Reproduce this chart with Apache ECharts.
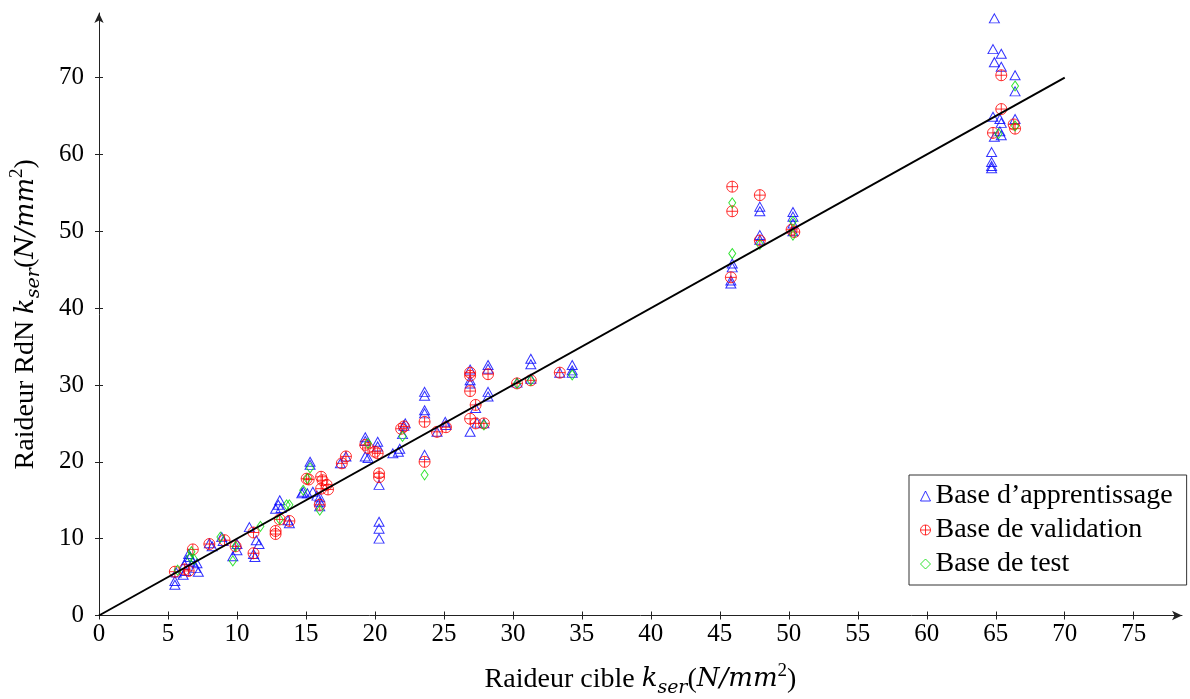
<!DOCTYPE html>
<html>
<head>
<meta charset="utf-8">
<script src="https://cdn.jsdelivr.net/npm/echarts@6/dist/echarts.min.js"></script>
<style>
html,body{margin:0;padding:0;background:#fff;}
#chart{width:1190px;height:699px;}
</style>
</head>
<body>
<div id="chart"></div>
<script>
const xTicks = [0,5,10,15,20,25,30,35,40,45,50,55,60,65,70,75];
const yTicks = [0,10,20,30,40,50,60,70];
const seriesNames = ['Base d\u2019apprentissage', 'Base de validation', 'Base de test'];

const apprentissage = [
[5.5,4.0],[5.5,4.5],[5.6,5.6],[6.1,5.3],[6.2,6.6],[6.35,7.2],[6.6,7.6],[6.5,8.0],[6.8,7.0],[7.0,6.2],[7.2,5.7],[7.1,6.8],[6.3,5.8],
[8.0,9.4],[8.2,9.0],[8.9,10.2],[9.0,9.7],[9.7,7.7],[10.0,9.3],[10.0,8.5],
[10.9,11.5],[11.4,9.8],[11.2,8.0],[11.3,7.6],[11.6,9.3],
[13.1,15.0],[13.0,14.4],[12.8,13.9],[13.2,14.0],[13.7,12.4],[13.8,12.0],[14.7,15.9],
[15.3,20.0],[15.3,19.6],[14.8,16.1],[15.1,15.9],[15.5,16.1],[15.8,15.6],[16.0,15.4],[16.0,14.8],[16.0,14.2],
[17.5,19.8],[17.9,20.7],
[19.3,23.2],[19.3,22.7],[19.3,20.7],[19.5,20.5],[20.2,22.6],[20.2,22.0],[20.3,17.0],[20.3,12.2],[20.3,11.3],[20.3,10.0],
[21.3,21.1],[21.7,21.3],[21.8,21.7],[22.0,23.6],[22.2,25.0],[22.1,24.7],
[23.6,29.1],[23.6,28.6],[23.6,26.7],[23.6,26.3],[23.6,20.9],
[24.5,23.9],[25.1,25.2],[25.15,24.8],
[26.9,32.0],[26.9,30.6],[26.9,30.2],[26.9,23.9],[27.3,27.0],[27.4,25.1],
[28.2,32.6],[28.2,32.1],[28.2,29.1],[28.2,28.5],[27.9,25.0],
[30.3,30.3],[31.3,33.4],[31.3,32.7],[31.3,30.8],[33.4,31.6],[34.3,32.6],[34.3,31.9],[34.3,31.6],
[45.9,45.8],[45.9,45.3],[45.8,43.2],[45.8,43.6],
[47.9,53.2],[47.9,52.6],[47.9,49.5],[47.9,48.9],
[50.3,52.5],[50.3,51.9],[50.3,51.0],[50.3,50.0],
[64.9,77.7],[64.8,73.7],[65.4,73.1],[64.9,72.0],[65.4,71.4],[66.4,70.3],[66.4,68.2],[64.8,64.9],[65.3,64.6],[65.4,64.1],[66.4,64.6],
[64.9,62.3],[65.3,63.0],[65.4,62.5],[64.7,60.3],[64.7,59.0],[64.7,58.5],[64.7,58.2]
];

const validation = [
[5.5,5.7],[6.2,6.0],[6.8,8.6],[6.5,5.8],
[8.0,9.3],[9.1,9.8],[9.9,9.0],
[11.2,10.8],[11.2,8.1],[12.8,11.0],[12.8,10.6],[13.1,12.5],[13.8,12.3],
[15.05,17.8],[15.2,17.7],[16.1,18.05],[16.2,17.6],[16.5,17.0],[16.6,16.4],[16.1,16.5],[16.0,14.4],
[17.6,19.8],[17.9,20.7],
[19.3,22.2],[19.5,21.8],[20.0,21.3],[20.2,21.1],[20.3,18.5],[20.3,18.0],
[21.9,24.3],[22.1,24.6],[23.6,25.2],[23.6,20.0],[24.5,23.9],[25.15,24.5],
[26.9,31.6],[26.9,31.2],[26.9,29.2],[26.9,25.6],[27.3,27.4],[27.3,25.0],[27.9,25.0],[28.2,31.4],
[30.3,30.2],[31.3,30.6],[33.4,31.6],
[45.9,55.8],[45.9,52.6],[45.8,44.0],
[47.9,54.7],[47.9,48.8],
[50.2,50.2],[50.4,49.9],
[65.4,70.3],[65.4,65.9],[66.3,63.9],[66.4,63.35],[64.8,62.8]
];

const test = [
[5.7,5.9],[6.6,7.6],[6.7,8.3],[6.9,7.3],
[8.8,10.2],[9.7,7.1],[9.9,9.0],
[11.7,11.6],[13.1,12.5],[13.6,14.4],[13.8,14.4],
[15.3,19.2],[15.1,17.8],[14.8,16.3],[16.0,13.7],
[19.5,22.4],[22.0,23.3],[23.6,18.3],
[27.9,24.8],[30.3,30.2],[31.3,30.6],[34.3,31.3],
[45.9,53.7],[45.9,47.1],[47.9,48.3],[50.3,51.3],[50.3,49.5],
[66.4,68.9],[66.4,63.7],[65.2,62.7]
];

const refLine = [[0,0],[70,70]];

const FONT = 'Liberation Serif';
const MATH = 'DejaVu Serif';
const AX = '#222';
const nameStyle = {
  fontFamily: FONT, fontSize: 28, color: '#000', lineHeight: 36,
  rich: {
    i: {fontFamily: MATH, fontStyle: 'italic', fontSize: 26, color: '#000', lineHeight: 36},
    s: {fontFamily: MATH, fontStyle: 'italic', fontSize: 19, color: '#000', verticalAlign: 'bottom'},
    p: {fontFamily: FONT, fontSize: 19, color: '#000', verticalAlign: 'top', lineHeight: 26}
  }
};

function mainAxis(ticks, max, isX) {
  return {
    type: 'value', min: 0, max: max,
    position: isX ? 'bottom' : 'left',
    axisLine: {show: true, onZero: false, symbol: ['none', 'arrow'], symbolSize: [7, 10],
      lineStyle: {color: AX, width: 1}},
    axisTick: {show: true, length: 4, customValues: ticks, lineStyle: {color: AX, width: 1}},
    axisLabel: {customValues: ticks, fontFamily: FONT, fontSize: 25, color: '#000', margin: isX ? 6 : 15},
    splitLine: {show: false},
    nameLocation: 'middle',
    nameTextStyle: nameStyle
  };
}
function innerAxis(ticks, max, isX) {
  return {
    type: 'value', min: 0, max: max,
    position: isX ? 'bottom' : 'left',
    axisLine: {show: false, onZero: false},
    axisTick: {show: true, inside: true, length: 4, customValues: ticks, lineStyle: {color: AX, width: 1}},
    axisLabel: {show: false},
    splitLine: {show: false}
  };
}

const xMain = mainAxis(xTicks, 78.5, true);
xMain.name = 'Raideur cible {i|k}{s|ser}({i|N/mm}{p|2})';
xMain.nameGap = 46;
const yMain = mainAxis(yTicks, 78.4, false);
yMain.name = 'Raideur RdN {i|k}{s|ser}({i|N/mm}{p|2})';
yMain.nameGap = 55;
yMain.nameRotate = 90;

const chart = echarts.init(document.getElementById('chart'), null, {renderer: 'canvas'});
chart.setOption({
  animation: false,
  backgroundColor: '#fff',
  grid: {left: 99, top: 13, width: 1083, height: 602.5, containLabel: false, outerBoundsMode: 'none'},
  xAxis: [xMain, innerAxis(xTicks, 78.5, true)],
  yAxis: [yMain, innerAxis(yTicks, 78.4, false)],
  legend: {
    data: seriesNames,
    orient: 'vertical',
    left: 909, top: 475,
    padding: [6, 14, 6, 11],
    itemGap: 4,
    itemWidth: 10, itemHeight: 10,
    borderColor: '#333', borderWidth: 1,
    selectedMode: false,
    itemStyle: {borderWidth: 1},
    textStyle: {fontFamily: FONT, fontSize: 28, color: '#000', lineHeight: 30}
  },
  series: [
    {name: seriesNames[0], type: 'scatter', data: apprentissage, symbol: 'triangle', symbolSize: [10, 9],
     itemStyle: {color: 'transparent', borderColor: '#0000ff', borderWidth: 1}, z: 2},
    {name: seriesNames[1], type: 'scatter', data: validation,
     symbol: 'path://M10,0A10,10,0,1,1,-10,0A10,10,0,1,1,10,0ZM-10,0L10,0M0,-10L0,10', symbolSize: 11, symbolKeepAspect: true,
     itemStyle: {color: 'transparent', borderColor: '#ff0000', borderWidth: 1}, z: 3},
    {name: seriesNames[2], type: 'scatter', data: test, symbol: 'diamond', symbolSize: [7, 10],
     itemStyle: {color: 'transparent', borderColor: '#00dd00', borderWidth: 1}, z: 4},
    {name: 'ref', type: 'line', data: refLine, symbol: 'none', silent: true,
     lineStyle: {color: '#000', width: 2}, z: 5}
  ]
});
</script>
</body>
</html>
